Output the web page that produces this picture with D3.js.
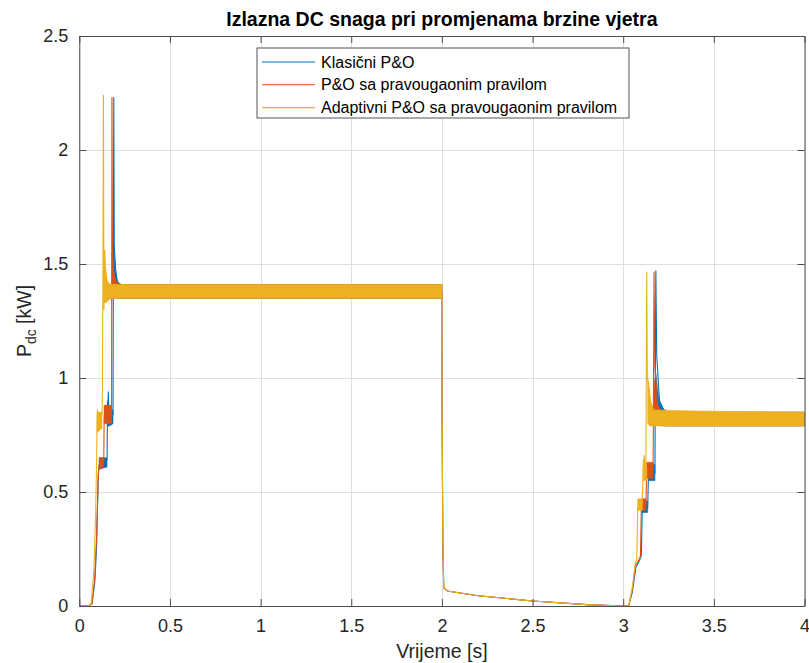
<!DOCTYPE html>
<html>
<head>
<meta charset="utf-8">
<script src="https://cdn.jsdelivr.net/npm/d3@7"></script>
<style>
  body { margin: 0; background: #fff; }
  svg { font-family: "Liberation Sans", Arial, Helvetica, sans-serif; }
  .tick-label { fill: #262626; font-size: 18px; }
  .grid line { stroke: #dedede; stroke-width: 1; shape-rendering: crispEdges; }
</style>
</head>
<body>
<div id="chart"></div>
<script>
  const w = 809;
  const h = 663;
  const margin = { top: 36, right: 4.5, bottom: 57, left: 79.3 };

  const title = 'Izlazna DC snaga pri promjenama brzine vjetra';
  const xLabel = 'Vrijeme [s]';
  const seriesNames = ['Klasični P&O', 'P&O sa pravougaonim pravilom', 'Adaptivni P&O sa pravougaonim pravilom'];
  const seriesColors = ['#0072BD', '#D95319', '#EDB120'];
  const xTicks = [0, 0.5, 1, 1.5, 2, 2.5, 3, 3.5, 4];
  const yTicks = [0, 0.5, 1, 1.5, 2, 2.5];

  // [t (s), P (kW)]
  const klasicni = [[0, 0], [0.05, 0], [0.07, 0.01], [0.085, 0.1], [0.095, 0.25], [0.1, 0.42], [0.105, 0.58],
    [0.11, 0.62], [0.153, 0.64], [0.155, 0.8], [0.16, 0.94], [0.165, 0.82], [0.186, 0.84], [0.19, 2.23],
    [0.193, 1.58], [0.2, 1.48], [0.21, 1.42], [0.24, 1.39], [1.999, 1.38], [2.0, 1.0], [2.005, 0.3],
    [2.01, 0.08], [2.03, 0.066], [2.2, 0.045], [2.5, 0.022], [2.8, 0.006], [3.0, 0], [3.03, 0],
    [3.05, 0.06], [3.07, 0.17], [3.09, 0.2], [3.1, 0.22], [3.105, 0.42], [3.135, 0.43], [3.14, 0.6],
    [3.175, 0.58], [3.18, 1.47], [3.185, 1.1], [3.2, 0.9], [3.23, 0.85], [3.27, 0.82], [4, 0.82]];
  const pravougaono = [[0, 0], [0.05, 0], [0.07, 0.01], [0.085, 0.12], [0.095, 0.3], [0.105, 0.58],
    [0.11, 0.62], [0.135, 0.64], [0.137, 0.82], [0.143, 0.88], [0.178, 0.84], [0.18, 2.23], [0.183, 1.55],
    [0.19, 1.47], [0.2, 1.41], [0.23, 1.39], [1.999, 1.38], [2.0, 1.0], [2.005, 0.3], [2.01, 0.08],
    [2.03, 0.066], [2.2, 0.045], [2.5, 0.022], [2.8, 0.006], [3.0, 0], [3.03, 0], [3.05, 0.07],
    [3.07, 0.18], [3.085, 0.2], [3.095, 0.22], [3.1, 0.43], [3.125, 0.44], [3.13, 0.6], [3.165, 0.6],
    [3.17, 1.465], [3.175, 1.05], [3.19, 0.88], [3.22, 0.84], [3.25, 0.82], [4, 0.82]];
  const adaptivni = [[0, 0], [0.05, 0], [0.065, 0.01], [0.08, 0.15], [0.09, 0.4], [0.095, 0.62],
    [0.098, 0.8], [0.1, 0.86], [0.105, 0.8], [0.125, 0.84], [0.127, 0.9], [0.13, 1.4], [0.133, 2.24],
    [0.136, 1.3], [0.14, 1.56], [0.145, 1.48], [0.15, 1.42], [0.17, 1.39], [1.999, 1.38], [2.0, 1.0],
    [2.005, 0.3], [2.01, 0.08], [2.03, 0.066], [2.2, 0.045], [2.5, 0.022], [2.8, 0.006], [3.0, 0],
    [3.03, 0], [3.05, 0.08], [3.065, 0.18], [3.075, 0.21], [3.08, 0.43], [3.105, 0.45], [3.11, 0.6],
    [3.115, 0.66], [3.125, 0.58], [3.13, 1.465], [3.133, 1.0], [3.14, 0.98], [3.15, 0.9], [3.17, 0.85],
    [3.2, 0.82], [4, 0.82]];

  // oscillation envelopes, each a list of [t, Pmin, Pmax]
  const klasicniEnv = [
    [[0.11, 0.6, 0.65], [0.153, 0.61, 0.65]],
    [[0.155, 0.79, 0.9], [0.165, 0.79, 0.87], [0.186, 0.8, 0.86]],
    [[0.19, 1.36, 1.58], [0.2, 1.36, 1.47], [0.215, 1.35, 1.42], [0.24, 1.35, 1.41], [2.0, 1.35, 1.41]],
    [[3.105, 0.41, 0.46], [3.135, 0.41, 0.46]],
    [[3.14, 0.55, 0.62], [3.175, 0.55, 0.62]],
    [[3.18, 0.82, 1.02], [3.2, 0.8, 0.9], [3.23, 0.79, 0.86], [3.27, 0.79, 0.85], [4, 0.79, 0.85]]];
  const pravougaonoEnv = [
    [[0.11, 0.6, 0.65], [0.135, 0.61, 0.65]],
    [[0.137, 0.8, 0.88], [0.178, 0.8, 0.88]],
    [[0.18, 1.36, 1.55], [0.19, 1.35, 1.46], [0.21, 1.35, 1.42], [0.23, 1.35, 1.41], [2.0, 1.35, 1.41]],
    [[3.1, 0.42, 0.47], [3.125, 0.42, 0.47]],
    [[3.13, 0.56, 0.63], [3.165, 0.56, 0.63]],
    [[3.17, 0.82, 1.0], [3.19, 0.8, 0.88], [3.22, 0.79, 0.85], [4, 0.79, 0.85]]];
  const adaptivniEnv = [
    [[0.098, 0.76, 0.85], [0.125, 0.78, 0.85]],
    [[0.136, 1.33, 1.56], [0.145, 1.33, 1.48], [0.16, 1.34, 1.42], [0.18, 1.35, 1.41], [2.0, 1.35, 1.41]],
    [[3.08, 0.42, 0.47], [3.105, 0.42, 0.47]],
    [[3.11, 0.55, 0.64], [3.13, 0.55, 0.6]],
    [[3.135, 0.8, 1.0], [3.15, 0.79, 0.9], [3.17, 0.79, 0.86], [4, 0.79, 0.85]]];

  const series = [
    { name: seriesNames[0], color: seriesColors[0], points: klasicni, env: klasicniEnv },
    { name: seriesNames[1], color: seriesColors[1], points: pravougaono, env: pravougaonoEnv },
    { name: seriesNames[2], color: seriesColors[2], points: adaptivni, env: adaptivniEnv }
  ];

  const iw = w - margin.left - margin.right;
  const ih = h - margin.top - margin.bottom;

  const x = d3.scaleLinear().domain([0, 4]).range([0, iw]);
  const y = d3.scaleLinear().domain([0, 2.5]).range([ih, 0]);

  const svg = d3.select('#chart').append('svg')
      .attr('width', w)
      .attr('height', h);

  svg.append('defs').append('clipPath')
      .attr('id', 'plotClip')
    .append('rect')
      .attr('width', iw)
      .attr('height', ih);

  const g = svg.append('g')
      .attr('transform', 'translate(' + margin.left + ',' + margin.top + ')');

  // grid
  g.append('g')
      .attr('class', 'grid')
      .attr('transform', 'translate(0,' + ih + ')')
      .call(d3.axisBottom(x).tickValues(xTicks).tickSize(-ih).tickFormat(''))
      .call(a => a.select('.domain').remove());
  g.append('g')
      .attr('class', 'grid')
      .call(d3.axisLeft(y).tickValues(yTicks).tickSize(-iw).tickFormat(''))
      .call(a => a.select('.domain').remove());

  // data
  const plot = g.append('g').attr('clip-path', 'url(#plotClip)');

  const line = d3.line()
      .x(d => x(d[0]))
      .y(d => y(d[1]));

  const area = d3.area()
      .x(d => x(d[0]))
      .y0(d => y(d[1]))
      .y1(d => y(d[2]))
      .curve(d3.curveMonotoneX);

  series.forEach(s => {
    const sg = plot.append('g');
    sg.selectAll('path.band')
        .data(s.env)
      .enter().append('path')
        .attr('class', 'band')
        .attr('d', area)
        .style('fill', s.color)
        .style('stroke', s.color)
        .style('stroke-width', 0.6);
    sg.append('path')
        .datum(s.points)
        .attr('d', line)
        .style('fill', 'none')
        .style('stroke', s.color)
        .style('stroke-width', 1.1)
        .style('stroke-linejoin', 'round');
  });

  // axes, ticks pointing inward on all four sides
  const axisColor = '#4d4d4d';
  const styleAxis = a => {
    a.select('.domain').style('stroke', axisColor);
    a.selectAll('.tick line').style('stroke', axisColor);
    a.selectAll('.tick text').attr('class', 'tick-label').style('font-family', 'inherit');
  };

  g.append('g')
      .attr('transform', 'translate(0,' + ih + ')')
      .call(d3.axisBottom(x).tickValues(xTicks).tickSizeInner(-7).tickSizeOuter(0).tickPadding(13).tickFormat(d => String(d)))
      .call(styleAxis);
  g.append('g')
      .call(d3.axisTop(x).tickValues(xTicks).tickSizeInner(-7).tickSizeOuter(0).tickFormat(''))
      .call(styleAxis);
  g.append('g')
      .call(d3.axisLeft(y).tickValues(yTicks).tickSizeInner(-7).tickSizeOuter(0).tickPadding(11).tickFormat(d => String(d)))
      .call(styleAxis);
  g.append('g')
      .attr('transform', 'translate(' + iw + ',0)')
      .call(d3.axisRight(y).tickValues(yTicks).tickSizeInner(-7).tickSizeOuter(0).tickFormat(''))
      .call(styleAxis);

  g.selectAll('.tick-label').style('font-size', '18px');

  // title and labels
  svg.append('text')
      .attr('x', margin.left + iw / 2)
      .attr('y', 26)
      .attr('text-anchor', 'middle')
      .style('font-size', '19.5px')
      .style('font-weight', 'bold')
      .style('fill', '#000')
      .text(title);

  svg.append('text')
      .attr('x', margin.left + iw / 2)
      .attr('y', 658)
      .attr('text-anchor', 'middle')
      .style('font-size', '19.5px')
      .style('fill', '#262626')
      .text(xLabel);

  const yl = svg.append('text')
      .attr('transform', 'translate(31,' + (margin.top + ih / 2) + ') rotate(-90)')
      .attr('text-anchor', 'middle')
      .style('font-size', '19.5px')
      .style('fill', '#262626');
  yl.append('tspan').text('P');
  yl.append('tspan').attr('dy', 5).style('font-size', '14px').text('dc');
  yl.append('tspan').attr('dy', -5).text(' [kW]');

  // legend
  const legend = svg.append('g')
      .attr('transform', 'translate(257,48)');
  legend.append('rect')
      .attr('width', 372)
      .attr('height', 70)
      .style('fill', '#fff')
      .style('stroke', '#555')
      .style('stroke-width', 1);
  const items = legend.selectAll('g.item')
      .data(series)
    .enter().append('g')
      .attr('class', 'item')
      .attr('transform', (d, i) => 'translate(0,' + (14 + i * 22.8) + ')');
  items.append('line')
      .attr('x1', 5)
      .attr('x2', 58)
      .style('stroke', d => d.color)
      .style('stroke-width', 1.1);
  items.append('text')
      .attr('x', 64)
      .attr('dy', '0.35em')
      .style('font-size', '16px')
      .style('fill', '#000')
      .text(d => d.name);
</script>
</body>
</html>
